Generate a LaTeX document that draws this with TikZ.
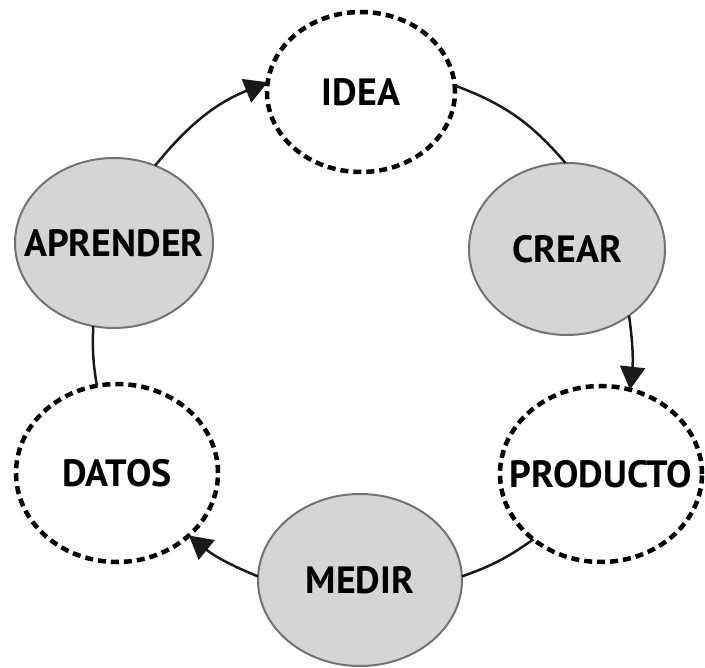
\documentclass[tikz,border=0pt]{standalone}
\usepackage{fontspec}
\setmainfont{PT Sans}
\usetikzlibrary{shapes.geometric,arrows.meta}
\definecolor{nodegray}{HTML}{D5D5D7}
\definecolor{edgegray}{HTML}{737373}
\newcommand{\stagetext}[1]{\makebox[0pt][c]{#1}}
\tikzset{
  stage/.style={ellipse, inner sep=0pt, outer sep=0pt, font=\fontsize{38}{40}\selectfont\bfseries, text=black},
  filledstage/.style={stage, fill=nodegray, draw=edgegray, line width=2pt},
  openstage/.style={stage, draw=black, line width=4.5pt, dash pattern=on 8pt off 5pt},
  link/.style={draw=black!90, line width=2.5pt},
  arrowlink/.style={link, -{Triangle[width=25pt,length=23pt]}}
}
\begin{document}
\begin{tikzpicture}[x=1pt,y=-1pt]
\useasboundingbox (0,0) rectangle (705,668);
\node[openstage, minimum width=188pt, minimum height=160pt] (idea) at (361,92) {\stagetext{IDEA}};
\node[filledstage, minimum width=196pt, minimum height=172pt] (crear) at (567,249) {\stagetext{CREAR}};
\node[openstage, minimum width=202pt, minimum height=176pt] (producto) at (601,474) {\stagetext{PRODUCTO}};
\node[filledstage, minimum width=204pt, minimum height=172pt] (medir) at (360,580) {\stagetext{MEDIR}};
\node[openstage, minimum width=202pt, minimum height=178pt] (datos) at (117,473) {\stagetext{DATOS}};
\node[filledstage, minimum width=198pt, minimum height=170pt] (aprender) at (114,243) {\stagetext{APRENDER}};

\draw[arrowlink] (aprender.62) to[bend left=14.5] (idea.174);
\draw[link] (idea.4) to[bend left=14.5] (crear.91);
\draw[arrowlink] (crear.-47) to[bend left=7] (producto.71);
\draw[link] (producto.224) to[bend left=8] (medir.2);
\draw[arrowlink] (medir.178) to[bend left=8.5] (datos.-41);
\draw[link] (datos.103) to[bend left=6] (aprender.256);
\end{tikzpicture}
\end{document}
